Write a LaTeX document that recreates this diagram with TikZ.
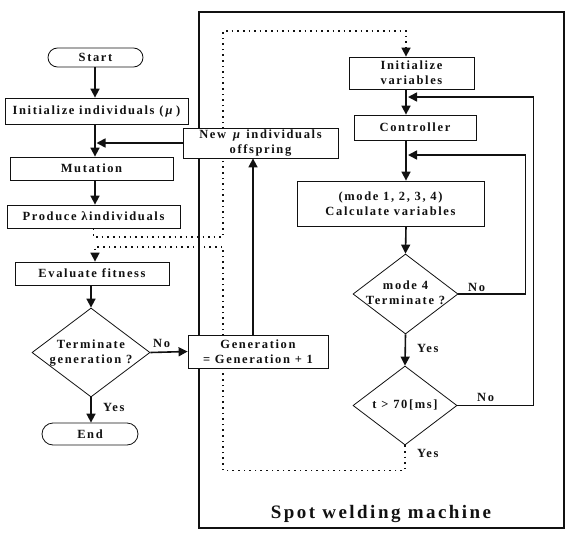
\documentclass[tikz,border=0pt]{standalone}
\usepackage{fontspec}
\setmainfont{Liberation Serif}[LetterSpace=13]
\usetikzlibrary{arrows.meta,shapes.geometric,shapes.misc,backgrounds}
\definecolor{ink}{HTML}{111111}
\newcommand{\pinned}[1]{\makebox[0pt]{\begin{tabular}{@{}c@{}}#1\end{tabular}}}
\tikzset{
  every node/.style={font=\fontsize{12.5}{15}\bfseries\selectfont,text=ink,inner sep=0pt},
  stepbox/.style={draw=ink,fill=white,line width=.8pt,rectangle,align=center},
  terminal/.style={draw=ink,fill=white,line width=.8pt,rounded rectangle,rounded rectangle arc length=180},
  decision/.style={draw=ink,fill=white,line width=.8pt,diamond},
  flowtip/.style={-{Triangle[length=9pt,width=9pt]}},
  flow/.style={draw=ink,line width=1.6pt,flowtip},
  signal/.style={draw=ink,line width=1.6pt,dash pattern=on 1.6pt off 4pt},
  branch/.style={anchor=west},
  machine/.style={draw=ink,line width=1.8pt}
}

\begin{document}
\begin{tikzpicture}[x=1pt,y=-1pt]
  \useasboundingbox (0,0) rectangle (578,538);
  % Spot welding machine frame.
  \draw[machine] (199,12) rectangle (564,528);
  \node[font=\fontsize{19}{21}\bfseries\selectfont] (machinelabel) at (381,514) {Spot welding machine};

  % Evolution loop, left column.
  \coordinate (laxis) at (95,0);
  \coordinate (upx) at (253,0);
  \node[terminal,minimum width=95pt,minimum height=19pt] (start) at (95.5,57.5) {Start};
  \node[stepbox,minimum width=183pt,minimum height=26pt] (initind) at (96.5,111) {Initialize individuals (\,\textit{μ}\,)};
  \node[stepbox,minimum width=163pt,minimum height=23pt] (mutation) at (91.5,168.5) {Mutation};
  \node[stepbox,minimum width=173pt,minimum height=23pt] (produce) at (93.5,216.5) {Produce λindividuals};
  \node[stepbox,minimum width=154pt,minimum height=23pt] (evalfit) at (92,273.5) {Evaluate fitness};
  \node[decision,minimum width=118pt,minimum height=89pt] (termgen) at (91,352.5) {\pinned{Terminate\\generation ?}};
  \node[terminal,minimum width=96pt,minimum height=22pt] (endnode) at (90,434) {End};
  \node[stepbox,minimum width=155pt,minimum height=30pt] (newmu) at (260.5,143) {New \,\textit{μ} individuals\\offspring};
  \node[stepbox,minimum width=140pt,minimum height=33pt] (gen) at (258,351.5) {Generation\\= Generation + 1};

  \draw[flow] (start.south -| laxis) -- (initind.north -| laxis);
  \draw[flow] (initind.south -| laxis) -- (mutation.north -| laxis);
  \draw[flow] (mutation.south -| laxis) -- (produce.north -| laxis);
  \draw[flow,shorten >=1.5pt] (newmu.west) -- (newmu.west -| laxis);
  \draw[flow] (evalfit.south -| termgen.north) -- (termgen.north);
  \draw[flow] (termgen.south) -- (endnode.north -| termgen.south);
  \draw[flow] (termgen.east) -- (gen.west);
  \draw[flow] (gen.north -| upx) -- (newmu.south -| upx);
  \node[branch] (nogen) at (153,343) {No};
  \node[branch] (yesgen) at (103,407) {Yes};

  % Machine control, right column.
  \coordinate (raxis) at (406,0);
  \coordinate (loopout) at (406,97);
  \coordinate (loopin) at (406,155);
  \node[stepbox,minimum width=125pt,minimum height=32pt] (initvar) at (411.5,73) {Initialize\\variables};
  \node[stepbox,minimum width=122pt,minimum height=25pt] (controller) at (415,127.5) {Controller};
  \node[stepbox,minimum width=187pt,minimum height=45pt] (calc) at (390.5,203.5) {(mode 1, 2, 3, 4)\\Calculate variables};
  \node[decision,minimum width=105pt,minimum height=80pt] (mode4) at (405.5,294) {\pinned{mode 4\\Terminate ?}};
  \node[decision,minimum width=104pt,minimum height=79pt] (tcheck) at (405,405.5) {\pinned{t > 70[ms]}};

  \draw[flow] (initvar.south -| raxis) -- (controller.north -| raxis);
  \draw[flow] (controller.south -| raxis) -- (calc.north -| raxis);
  \draw[flow] (calc.south -| raxis) -- (mode4.north);
  \draw[flow] (mode4.south) -- (tcheck.north);
  \draw[flow,shorten >=2pt] (mode4.east) -- ++(67,0) |- (loopin);
  \draw[flow,shorten >=2pt] (tcheck.east) -- ++(76,0) |- (loopout);
  \node[branch] (nomode) at (468,287) {No};
  \node[branch] (yesmode) at (417,348) {Yes};
  \node[branch] (notime) at (477,397) {No};
  \node[branch] (yestime) at (417,453) {Yes};

  % Dotted hand-over between the two loops, kept behind the boxes.
  \begin{scope}[on background layer]
    \draw[signal,flowtip] (produce.south) |- (223,237) -- (223,31) -| (initvar.north -| raxis);
    \draw[signal,flowtip] (tcheck.south) -- ++(0,25) -| (223,247) -| (evalfit.north -| laxis);
  \end{scope}
\end{tikzpicture}
\end{document}
